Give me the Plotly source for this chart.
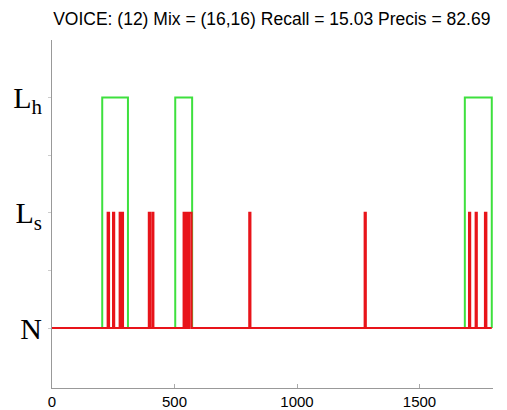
import plotly.graph_objects as go

# Ground-truth (green) segments at level L_h, as (start, end)
green_starts = [205, 503, 1685]
green_ends = [310, 572, 1795]
# Detected (red) segments at level L_s
red_starts = [227, 249, 276, 284, 395, 409, 537, 545, 553, 561, 805, 1276, 1702, 1729, 1767]
red_ends = [233, 254, 281, 290, 400, 414, 543, 551, 559, 570, 810, 1281, 1707, 1734, 1773]
x_end = 1795
green_level = 2
red_level = 1

y_tickvals = [0, 0.5, 1, 1.5, 2]
y_ticktext = ["N", "", "L<sub>s</sub>", "", "L<sub>h</sub>"]
x_tickvals = [0, 500, 1000, 1500]

title_text = "VOICE: (12) Mix = (16,16) Recall = 15.03 Precis = 82.69"


def step_series(starts, ends, level, xmax):
    xs, ys = [0], [0]
    for s, e in zip(starts, ends):
        xs += [s, s, e, e]
        ys += [0, level, level, 0]
    xs.append(xmax)
    ys.append(0)
    return xs, ys


gx, gy = step_series(green_starts, green_ends, green_level, x_end)
rx, ry = step_series(red_starts, red_ends, red_level, x_end)

fig = go.Figure()
fig.add_trace(go.Scatter(x=gx, y=gy, mode="lines",
                         line=dict(color="#3ee03e", width=2), hoverinfo="skip"))
fig.add_trace(go.Scatter(x=rx, y=ry, mode="lines",
                         line=dict(color="#e8141a", width=2), hoverinfo="skip"))

fig.update_layout(
    width=507, height=410,
    margin=dict(l=52, r=14, t=40, b=22, autoexpand=False),
    paper_bgcolor="white", plot_bgcolor="white",
    showlegend=False,
    title=dict(text=title_text, x=0.536, xanchor="center", y=0.955, yanchor="middle",
               font=dict(family="Liberation Sans, Arial", size=17.5, color="black")),
    xaxis=dict(range=[0, 1800], tickvals=x_tickvals, showgrid=False, zeroline=False,
               automargin=False,
               showline=True, linecolor="#999999", linewidth=1,
               ticks="inside", ticklen=4, tickcolor="#aaaaaa",
               tickfont=dict(family="Liberation Sans, Arial", size=15, color="black")),
    yaxis=dict(range=[-0.52, 2.5], tickvals=y_tickvals, ticktext=y_ticktext,
               showgrid=False, zeroline=False, automargin=False,
               showline=True, linecolor="#999999", linewidth=1,
               ticks="outside", ticklen=3, tickcolor="#cccccc",
               tickfont=dict(family="Liberation Serif, DejaVu Serif, serif", size=30, color="black")),
)

fig.write_html("out.html")
